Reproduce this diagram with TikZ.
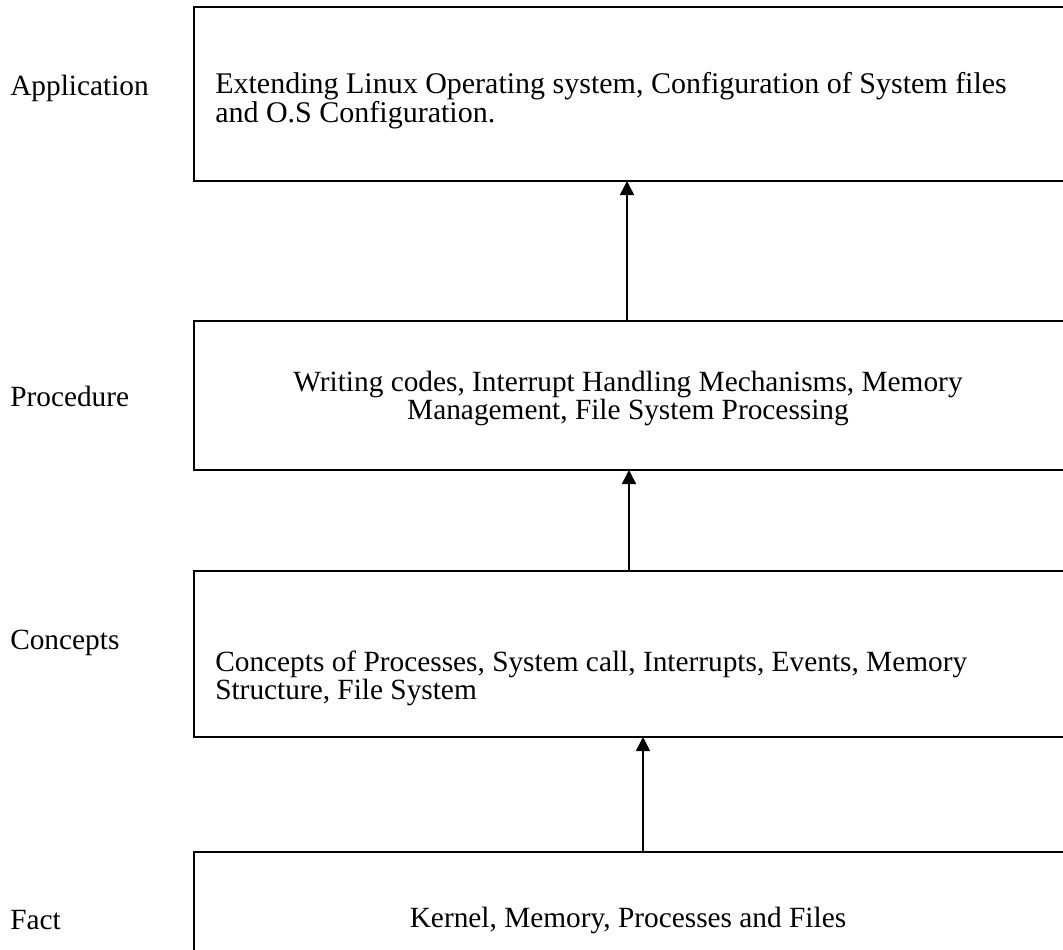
\documentclass[tikz,border=0pt]{standalone}
\usepackage{fontspec}
\setmainfont{Liberation Serif}
\usetikzlibrary{arrows.meta}

\begin{document}
\begin{tikzpicture}[x=0.75pt,y=-0.75pt]
    \tikzset{
        stage/.style={draw, line width=1.4pt, inner sep=0pt, outer sep=0pt, anchor=north west, minimum width=657pt},
        tag/.style={anchor=base west, inner sep=0pt, font=\fontsize{22}{21}\selectfont},
        body/.style={inner sep=0pt, font=\fontsize{22}{21}\selectfont},
        up/.style={line width=1.2pt, -{Triangle[width=10.5pt,length=10.5pt]}}
    }
    \useasboundingbox (0,0) rectangle (1063,949);
    % the four stages
    \node[stage, minimum height=130.5pt] (app) at (194,7) {};
    \node[stage, minimum height=111.75pt] (proc) at (194,321) {};
    \node[stage, minimum height=124.5pt] (conc) at (194,571) {};
    \node[stage, minimum height=81pt] (fact) at (194,852) {};
    % labels on the left
    \node[tag] (lapp) at (10,95) {Application};
    \node[tag] (lproc) at (10,406) {Procedure};
    \node[tag] (lconc) at (10,649) {Concepts};
    \node[tag] (lfact) at (10,929) {Fact};
    % texts in the boxes (base = last line)
    \node[body, anchor=base west, align=left, font=\fontsize{22.5}{21}\selectfont] (tapp) at (215,122)
        {Extending Linux Operating system, Configuration of System files\\and O.S Configuration.};
    \node[body, anchor=base, align=center] (tproc) at (628,419)
        {Writing codes, Interrupt Handling Mechanisms, Memory\\Management, File System Processing};
    \node[body, anchor=base west, align=left] (tconc) at (215,699)
        {Concepts of Processes, System call, Interrupts, Events, Memory\\Structure, File System};
    \node[body, anchor=base] (tfact) at (628,927) {Kernel, Memory, Processes and Files};
    % arrows between the stages
    \draw[up] (proc.north -| 627,0) -- (app.south -| 627,0);
    \draw[up] (conc.north -| 629,0) -- (proc.south -| 629,0);
    \draw[up] (fact.north -| 643,0) -- (conc.south -| 643,0);
\end{tikzpicture}
\end{document}
